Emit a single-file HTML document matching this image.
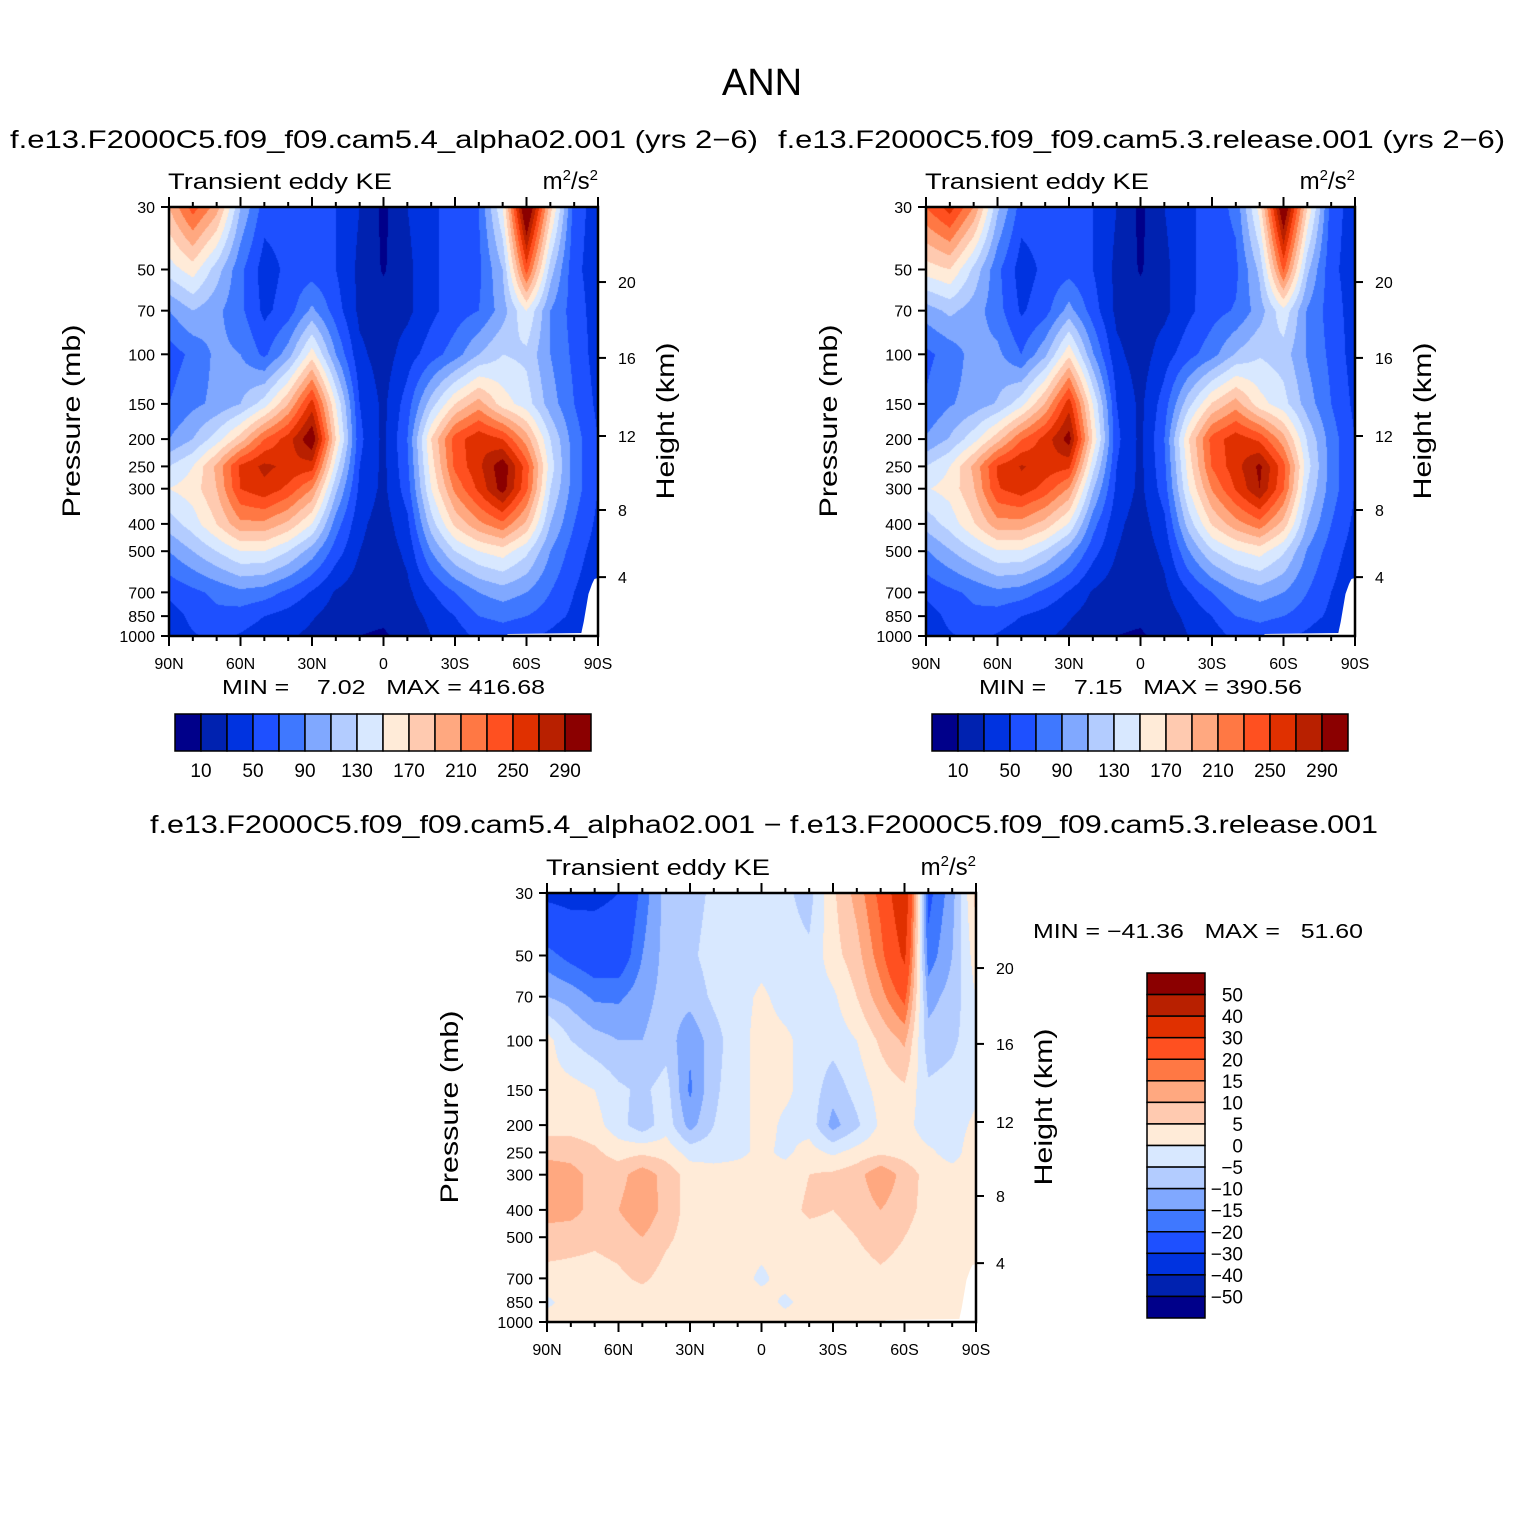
<!DOCTYPE html>
<html><head><meta charset="utf-8">
<style>
body{margin:0;background:#fff;}
#wrap{position:relative;width:1524px;height:1524px;overflow:hidden;background:#fff;}
canvas{position:absolute;}
svg{position:absolute;left:0;top:0;}
text{font-family:"Liberation Sans",sans-serif;fill:#000;}
</style></head>
<body>
<div id="wrap">
<canvas id="c1" width="429" height="429" style="left:169px;top:207px"></canvas>
<canvas id="c2" width="429" height="429" style="left:926px;top:207px"></canvas>
<canvas id="c3" width="429" height="429" style="left:547px;top:893px"></canvas>
<svg id="ov" width="1524" height="1524">
<text x="762" y="95" font-size="38" text-anchor="middle">ANN</text>
<text x="10" y="148" font-size="25" textLength="748" lengthAdjust="spacingAndGlyphs">f.e13.F2000C5.f09_f09.cam5.4_alpha02.001 (yrs 2−6)</text>
<text x="778" y="148" font-size="25" textLength="727" lengthAdjust="spacingAndGlyphs">f.e13.F2000C5.f09_f09.cam5.3.release.001 (yrs 2−6)</text>
<text x="150" y="833" font-size="25" textLength="1228" lengthAdjust="spacingAndGlyphs">f.e13.F2000C5.f09_f09.cam5.4_alpha02.001 − f.e13.F2000C5.f09_f09.cam5.3.release.001</text>
<text x="1033" y="938" font-size="20" textLength="330" lengthAdjust="spacingAndGlyphs" xml:space="preserve">MIN = −41.36   MAX =   51.60</text>
<text x="222" y="694" font-size="20" textLength="323" lengthAdjust="spacingAndGlyphs" xml:space="preserve">MIN =    7.02   MAX = 416.68</text>
<text x="979" y="694" font-size="20" textLength="323" lengthAdjust="spacingAndGlyphs" xml:space="preserve">MIN =    7.15   MAX = 390.56</text>
</svg>
</div>
<script>
// ---- data ----
const lats = [90,80,70,60,50,40,30,20,10,0,-10,-20,-30,-40,-50,-60,-70,-80,-90];
const plevs = [30,50,70,100,150,200,250,300,400,500,700,850,1000];
const pTickLabels = ["30","50","70","100","150","200","250","300","400","500","700","850","1000"];
const latTicks = [90,60,30,0,-30,-60,-90];
const latTickLabels = ["90N","60N","30N","0","30S","60S","90S"];
const heightTicks = [20,16,12,8,4];
const heightTickPressures = [55.4,103,195,357,618];
const keLevels = [10,30,50,70,90,110,130,150,170,190,210,230,250,270,290];
const keLabels = ["10","50","90","130","170","210","250","290"];
const diffLevels = [-50,-40,-30,-20,-15,-10,-5,0,5,10,15,20,30,40,50];
const diffLabels = ["50","40","30","20","15","10","5","0","−5","−10","−15","−20","−30","−40","−50"];
const colors = ["#00008a","#0022b0","#0033e0","#1e50ff","#3f78ff","#80a8ff","#b3ccff","#d8e8ff","#ffebd8","#ffcab0","#ffa880","#ff7844","#ff5020","#e03000","#b82000","#8b0000"];

const keA = [
[190,240,200,110,60,60,60,50,30,5,30,45,60,70,150,330,180,60,40],
[140,160,120,75,40,55,60,50,25,8,25,45,60,65,110,240,120,55,40],
[90,110,95,75,45,60,95,60,25,20,25,45,60,70,100,150,90,60,40],
[60,75,95,90,65,100,160,90,35,20,40,60,80,110,130,125,90,65,40],
[70,85,95,110,140,190,260,150,50,25,60,120,170,200,160,140,100,70,45],
[90,110,140,180,230,260,310,170,55,25,70,170,240,265,250,200,130,80,50],
[130,150,195,255,275,265,260,140,50,25,65,160,235,265,305,240,140,80,50],
[150,160,190,250,265,245,210,115,45,25,60,150,215,255,300,235,130,80,50],
[120,140,170,205,205,185,150,80,35,20,45,120,175,205,225,185,110,70,45],
[90,110,130,150,150,130,100,60,30,18,35,90,130,150,160,135,90,60,40],
[55,65,75,85,80,65,48,28,18,15,25,48,70,90,100,90,70,50,35],
[40,55,65,60,50,42,32,20,14,13,20,35,50,70,75,70,60,45,30],
[40,48,55,48,40,33,25,15,10,8,15,30,40,55,60,55,45,30,20]];

const keB = [
[230,260,210,115,60,60,60,50,30,5,30,45,60,75,160,320,170,60,40],
[160,170,125,75,40,55,62,50,25,8,25,45,60,65,115,235,115,55,40],
[100,115,100,78,47,62,98,60,25,20,25,45,62,72,100,145,88,60,40],
[65,78,98,95,70,105,165,92,35,20,40,62,82,112,128,120,88,65,40],
[72,88,98,112,142,192,262,150,50,25,60,122,172,200,158,138,100,70,45],
[92,112,142,182,228,258,300,168,55,25,70,168,238,262,245,198,128,80,50],
[130,150,195,252,272,262,255,138,50,25,65,158,232,262,295,238,138,80,50],
[148,158,188,248,262,242,208,113,45,25,60,148,212,252,290,232,128,80,50],
[118,138,168,202,202,182,148,78,35,20,45,118,172,202,222,182,108,70,45],
[88,108,128,148,148,128,98,58,30,18,35,88,128,148,158,133,88,60,40],
[55,65,75,85,80,65,48,28,18,15,25,48,70,90,100,90,70,50,35],
[40,55,65,60,50,42,32,20,14,13,20,35,50,70,75,70,60,45,30],
[40,48,55,48,40,33,25,15,10,8,15,30,40,55,60,55,45,30,20]];

const diffVals = [
[-32,-33,-32,-30,-18,-8,-7,-4,-3,-3,-4,-7,4,12,22,40,-22,-12,7],
[-18,-22,-25,-25,-15,-8,-6,-3,-3,-2,-3,-4,3,8,18,32,-18,-10,3],
[-10,-12,-16,-16,-12,-8,-8,-4,-2,1,-2,-3,-1,5,13,22,-12,-8,0],
[2,-5,-8,-10,-10,-7,-14,-7,-2,2,1,-2,-3,0,6,11,-8,-6,-2],
[2,2,0,-4,-6,-3,-16,-6,-2,2,1,-2,-8,-3,2,4,-4,-3,-1],
[3,3,2,-3,-8,-2,-12,-5,-2,2,-1,-2,-12,-6,1,2,-3,-2,1],
[8,8,6,3,4,3,-2,-2,-1,1,-1,2,-1,2,4,3,1,-2,3],
[14,12,8,8,13,8,3,2,2,2,2,5,6,8,14,8,3,2,2],
[12,12,8,10,14,8,3,2,2,2,3,6,5,7,10,7,3,2,2],
[8,7,6,7,10,6,3,2,2,2,2,3,3,5,7,5,2,2,2],
[3,3,3,4,6,3,2,2,2,-1,2,2,2,3,4,3,2,2,2],
[-1,2,2,2,2,2,2,2,2,2,-1,2,2,2,3,4,3,2,2],
[2,2,2,2,2,2,2,2,2,2,2,2,2,2,2,2,2,2,2]];

// ---- axis helpers ----
const W = 429, H = 429;
const lnTop = Math.log(30), lnBot = Math.log(1000);
function xOfLat(lat){ return (90 - lat) / 180 * W; }
function yOfP(p){ return (Math.log(p) - lnTop) / (lnBot - lnTop) * H; }
function sample(grid, lat, p){
  let fi = (90 - lat) / 10; let i = Math.min(Math.floor(fi), lats.length - 2); let fx = fi - i;
  const lp = Math.log(p); let j = 0;
  while (j < plevs.length - 2 && Math.log(plevs[j+1]) < lp) j++;
  let fy = (lp - Math.log(plevs[j])) / (Math.log(plevs[j+1]) - Math.log(plevs[j]));
  fy = Math.max(0, Math.min(1, fy));
  const a = grid[j][i], b = grid[j][i+1], c = grid[j+1][i], d = grid[j+1][i+1];
  return (a*(1-fx) + b*fx) * (1-fy) + (c*(1-fx) + d*fx) * fy;
}
function binOf(v, levels){ let k = 0; while (k < levels.length && v >= levels[k]) k++; return k; }
function hexToRgb(h){ return [parseInt(h.substr(1,2),16),parseInt(h.substr(3,2),16),parseInt(h.substr(5,2),16)]; }
const rgb = colors.map(hexToRgb);

function drawField(id, grid, levels){
  const ctx = document.getElementById(id).getContext('2d');
  const img = ctx.createImageData(W, H);
  for (let y = 0; y < H; y++){
    const p = Math.exp(lnTop + (y + 0.5) / H * (lnBot - lnTop));
    for (let x = 0; x < W; x++){
      const lat = 90 - (x + 0.5) / W * 180;
      const c = rgb[binOf(sample(grid, lat, p), levels)];
      const o = (y * W + x) * 4;
      img.data[o] = c[0]; img.data[o+1] = c[1]; img.data[o+2] = c[2]; img.data[o+3] = 255;
    }
  }
  ctx.putImageData(img, 0, 0);
}
drawField('c1', keA, keLevels);
drawField('c2', keB, keLevels);
drawField('c3', diffVals, diffLevels);

// ---- overlay ----
const NS = "http://www.w3.org/2000/svg";
const ov = document.getElementById('ov');
function mk(tag, attrs, parent){
  const e = document.createElementNS(NS, tag);
  for (const k in attrs) e.setAttribute(k, attrs[k]);
  (parent || ov).appendChild(e); return e;
}

function drawAxes(x0, y0, tag){
  const g = mk('g', {});
  
  
  const mask = mk('polygon', {fill:'#fff', points:[
    [x0+xOfLat(-52), y0+H],[x0+xOfLat(-52), y0+H-2],[x0+xOfLat(-83), y0+H-3],[x0+xOfLat(-84), y0+H-14],
    [x0+xOfLat(-85), y0+H-28],[x0+xOfLat(-86), y0+H-42],[x0+xOfLat(-87.5), y0+H-52],[x0+xOfLat(-88.5), y0+H-57],
    [x0+W, y0+H-58],[x0+W, y0+H]].map(q=>q.join(',')).join(' ')}, g);
  
  
  const frame = mk('rect', {x:x0, y:y0, width:W, height:H, fill:'none', stroke:'#000', 'stroke-width':2.5}, g);
  
  
  for (let lat = 90; lat >= -90; lat -= 10){
    const x = x0 + xOfLat(lat); const major = lat % 30 === 0; const L = major ? 10 : 5;
    mk('line', {x1:x, x2:x, y1:y0+H, y2:y0+H+L, stroke:'#000', 'stroke-width':2}, g);
    mk('line', {x1:x, x2:x, y1:y0, y2:y0-L, stroke:'#000', 'stroke-width':2}, g);
  }
  latTicks.forEach((lat, i) => {
    const t = mk('text', {x:x0 + xOfLat(lat), y:y0 + H + 33, 'font-size':16, 'text-anchor':'middle'}, g);
    t.textContent = latTickLabels[i];
    
    
  });
  plevs.forEach((p, i) => {
    const y = y0 + yOfP(p);
    mk('line', {x1:x0, x2:x0-8, y1:y, y2:y, stroke:'#000', 'stroke-width':2}, g);
    const t = mk('text', {x:x0 - 14, y:y + 6, 'font-size':16, 'text-anchor':'end'}, g);
    t.textContent = pTickLabels[i];
    
    
  });
  heightTicks.forEach((h, i) => {
    const y = y0 + yOfP(heightTickPressures[i]);
    mk('line', {x1:x0+W, x2:x0+W+8, y1:y, y2:y, stroke:'#000', 'stroke-width':2}, g);
    const t = mk('text', {x:x0 + W + 20, y:y + 6, 'font-size':16}, g);
    t.textContent = String(h);
    
    
  });
  const t1 = mk('text', {x:x0 - 1, y:y0 - 18, 'font-size':22, textLength:224, lengthAdjust:'spacingAndGlyphs'}, g);
  t1.textContent = 'Transient eddy KE';
  
  
  const t2 = mk('text', {x:x0 + W, y:y0 - 18, 'font-size':24, 'text-anchor':'end'}, g);
  t2.innerHTML = 'm<tspan dy="-9" font-size="15">2</tspan><tspan dy="9">/s</tspan><tspan dy="-9" font-size="15">2</tspan>';
  
  
  const cx = x0 - 89, cy = y0 + 214;
  const t3 = mk('text', {x:cx, y:cy, 'font-size':25, 'text-anchor':'middle', transform:'rotate(-90 '+cx+' '+cy+')', textLength:193, lengthAdjust:'spacingAndGlyphs'}, g);
  t3.textContent = 'Pressure (mb)';
  
  
  const hx = x0 + W + 76, hy = y0 + 214;
  const t4 = mk('text', {x:hx, y:hy, 'font-size':25, 'text-anchor':'middle', transform:'rotate(-90 '+hx+' '+hy+')', textLength:157, lengthAdjust:'spacingAndGlyphs'}, g);
  t4.textContent = 'Height (km)';
  
  
}
drawAxes(169, 207, 'left-panel');
drawAxes(926, 207, 'right-panel');
drawAxes(547, 893, 'diff-panel');

function hBar(x0, y0, tag){
  const g = mk('g', {});
  
  
  const bw = 26;
  colors.forEach((c, i) => {
    const r = mk('rect', {x:x0 + i*bw, y:y0, width:bw, height:37, fill:c, stroke:'#000', 'stroke-width':1.5}, g);
    
    
  });
  keLabels.forEach((lab, i) => {
    const t = mk('text', {x:x0 + bw*(1 + 2*i), y:y0 + 63, 'font-size':19, 'text-anchor':'middle'}, g);
    t.textContent = lab;
    
    
  });
}
hBar(175, 714, 'left-colorbar');
hBar(932, 714, 'right-colorbar');

(function(){
  const g = mk('g', {});
  
  
  const x0 = 1147, y0 = 973, bh = 345/16;
  for (let i = 0; i < 16; i++){
    const r = mk('rect', {x:x0, y:y0 + i*bh, width:58, height:bh, fill:colors[15 - i], stroke:'#000', 'stroke-width':1.5}, g);
    
    
  }
  diffLabels.forEach((lab, i) => {
    const t = mk('text', {x:1243, y:y0 + bh*(i+1) + 7, 'font-size':19, 'text-anchor':'end'}, g);
    t.textContent = lab;
    
    
  });
})();
</script>
</body></html>
